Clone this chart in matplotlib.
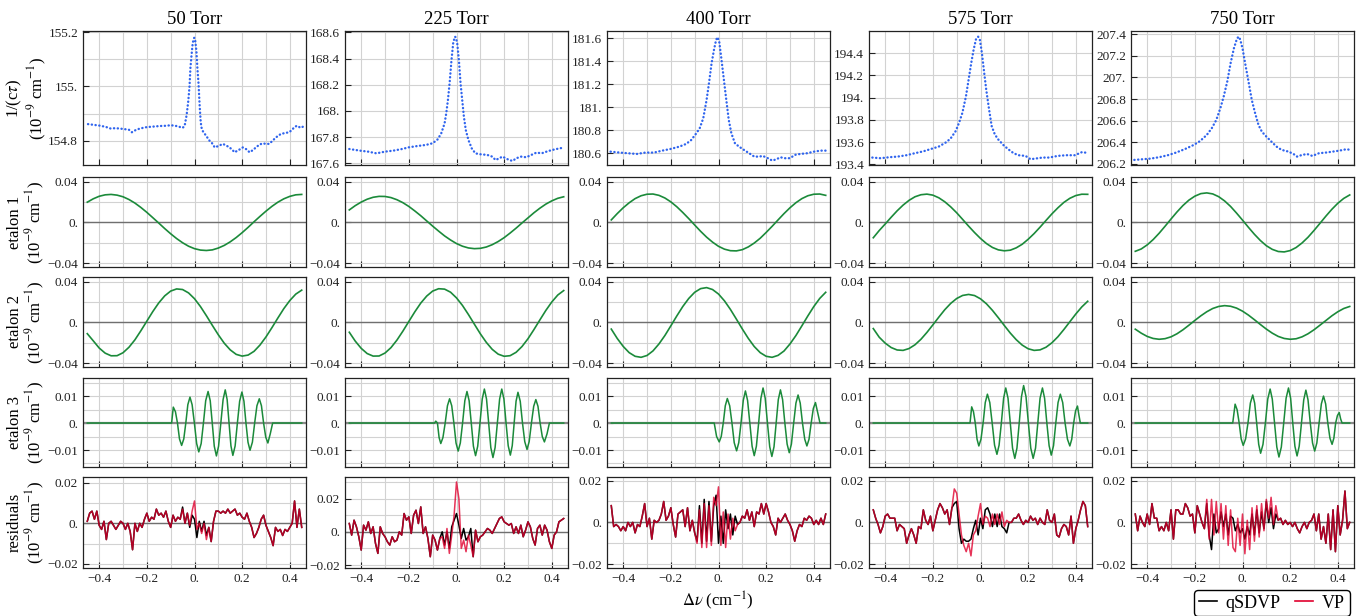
import numpy as np
import matplotlib
matplotlib.use("Agg")
import matplotlib.pyplot as plt
from matplotlib.ticker import MultipleLocator, FixedLocator, FuncFormatter
from matplotlib.lines import Line2D

plt.rcParams["font.family"] = ["Liberation Serif", "DejaVu Serif"]
plt.rcParams["mathtext.fontset"] = "stix"

# ---------------------------------------------------------------- data
pressures = ["50 Torr", "225 Torr", "400 Torr", "575 Torr", "750 Torr"]

# measured 1/(c tau) spectra (x, y) per pressure
spec_x = [
    [-0.447, -0.42, -0.394, -0.37, -0.353, -0.33, -0.297, -0.275, -0.263, -0.245, -0.228, -0.2, -0.172,
     -0.145, -0.117, -0.1, -0.082, -0.065, -0.054, -0.045, -0.04, -0.033, -0.026, -0.021, -0.017, -0.012,
     -0.008, -0.004, -0.001, 0.003, 0.008, 0.012, 0.017, 0.022, 0.026, 0.029, 0.035, 0.043, 0.055, 0.063,
     0.071, 0.085, 0.1, 0.119, 0.133, 0.147, 0.16, 0.168, 0.185, 0.203, 0.218, 0.231, 0.245, 0.258, 0.272,
     0.286, 0.3, 0.314, 0.328, 0.342, 0.363, 0.38, 0.397, 0.41, 0.418, 0.43, 0.446, 0.456],
    [-0.45, -0.407, -0.371, -0.336, -0.3, -0.264, -0.229, -0.2, -0.164, -0.129, -0.1, -0.079, -0.064,
     -0.05, -0.043, -0.036, -0.029, -0.021, -0.014, -0.007, -0.003, 0.003, 0.01, 0.017, 0.024, 0.031,
     0.039, 0.05, 0.064, 0.079, 0.1, 0.129, 0.15, 0.164, 0.179, 0.193, 0.207, 0.221, 0.236, 0.25, 0.271,
     0.293, 0.314, 0.336, 0.357, 0.386, 0.414, 0.45],
    [-0.453, -0.414, -0.379, -0.343, -0.307, -0.271, -0.236, -0.2, -0.164, -0.136, -0.114, -0.093, -0.079,
     -0.064, -0.05, -0.04, -0.029, -0.019, -0.01, -0.004, 0.003, 0.011, 0.021, 0.031, 0.043, 0.054, 0.069,
     0.086, 0.107, 0.129, 0.15, 0.171, 0.186, 0.207, 0.226, 0.243, 0.26, 0.279, 0.3, 0.321, 0.343, 0.371,
     0.4, 0.429, 0.454],
    [-0.454, -0.419, -0.383, -0.347, -0.311, -0.276, -0.24, -0.204, -0.176, -0.147, -0.126, -0.104, -0.09,
     -0.076, -0.061, -0.05, -0.039, -0.029, -0.019, -0.01, -0.003, 0.006, 0.014, 0.024, 0.036, 0.047, 0.06,
     0.074, 0.096, 0.117, 0.139, 0.16, 0.189, 0.21, 0.231, 0.26, 0.289, 0.324, 0.36, 0.396, 0.427, 0.453],
    [-0.454, -0.421, -0.386, -0.35, -0.314, -0.279, -0.243, -0.207, -0.179, -0.15, -0.129, -0.11, -0.093,
     -0.079, -0.064, -0.05, -0.036, -0.024, -0.017, -0.01, 0.0, 0.011, 0.024, 0.039, 0.053, 0.067, 0.081,
     0.1, 0.121, 0.143, 0.164, 0.193, 0.214, 0.229, 0.25, 0.271, 0.293, 0.321, 0.35, 0.379, 0.407, 0.436,
     0.453],
]
spec_y = [
    [154.861, 154.858, 154.855, 154.850, 154.845, 154.846, 154.843, 154.840, 154.831, 154.840, 154.845,
     154.850, 154.852, 154.854, 154.855, 154.857, 154.855, 154.852, 154.847, 154.850, 154.861, 154.895,
     154.947, 155.000, 155.070, 155.120, 155.156, 155.175, 155.180, 155.170, 155.131, 155.070, 155.009,
     154.923, 154.870, 154.849, 154.835, 154.825, 154.810, 154.800, 154.794, 154.775, 154.780, 154.788,
     154.782, 154.775, 154.765, 154.757, 154.765, 154.775, 154.768, 154.757, 154.765, 154.775, 154.785,
     154.790, 154.788, 154.788, 154.800, 154.812, 154.825, 154.828, 154.831, 154.840, 154.849, 154.855,
     154.847, 154.852],
    [167.709, 167.697, 167.689, 167.676, 167.689, 167.697, 167.709, 167.722, 167.732, 167.740, 167.753,
     167.783, 167.829, 167.905, 167.982, 168.083, 168.211, 168.389, 168.516, 168.567, 168.562, 168.516,
     168.389, 168.211, 168.083, 167.956, 167.854, 167.778, 167.714, 167.676, 167.669, 167.664, 167.651,
     167.625, 167.638, 167.651, 167.638, 167.625, 167.618, 167.638, 167.651, 167.646, 167.664, 167.682,
     167.676, 167.694, 167.707, 167.720],
    [180.614, 180.606, 180.600, 180.594, 180.606, 180.606, 180.623, 180.638, 180.658, 180.681, 180.716,
     180.774, 180.817, 180.904, 181.064, 181.209, 181.383, 181.499, 181.586, 181.609, 181.571, 181.441,
     181.267, 181.093, 180.890, 180.774, 180.687, 180.658, 180.629, 180.600, 180.571, 180.571, 180.577,
     180.557, 180.536, 180.548, 180.565, 180.557, 180.557, 180.586, 180.594, 180.600, 180.614, 180.623,
     180.623],
    [193.460, 193.454, 193.463, 193.469, 193.481, 193.499, 193.516, 193.540, 193.558, 193.594, 193.630,
     193.699, 193.773, 193.863, 194.012, 194.161, 194.310, 194.430, 194.525, 194.549, 194.525, 194.400,
     194.251, 194.072, 193.893, 193.743, 193.669, 193.624, 193.573, 193.534, 193.499, 193.481, 193.475,
     193.445, 193.451, 193.460, 193.460, 193.475, 193.481, 193.481, 193.510, 193.499],
    [206.237, 206.243, 206.249, 206.262, 206.280, 206.305, 206.336, 206.373, 206.410, 206.468, 206.530,
     206.607, 206.715, 206.823, 206.962, 207.132, 207.270, 207.354, 207.378, 207.354, 207.270, 207.132,
     206.977, 206.792, 206.669, 206.561, 206.499, 206.453, 206.407, 206.360, 206.330, 206.314, 206.292,
     206.268, 206.283, 206.292, 206.274, 206.299, 206.305, 206.314, 206.323, 206.336, 206.330],
]
spec_ylim = [(154.71, 155.205), (167.587, 168.61), (180.498, 181.663), (193.393, 194.6), (206.19, 207.43)]
spec_ticks = [
    [154.8, 155.0, 155.2],
    [167.6, 167.8, 168.0, 168.2, 168.4, 168.6],
    [180.6, 180.8, 181.0, 181.2, 181.4, 181.6],
    [193.4, 193.6, 193.8, 194.0, 194.2, 194.4],
    [206.2, 206.4, 206.6, 206.8, 207.0, 207.2, 207.4],
]
spec_grid = [
    [154.8, 154.9, 155.0, 155.1, 155.2],
    [167.6, 167.8, 168.0, 168.2, 168.4, 168.6],
    [180.6, 180.8, 181.0, 181.2, 181.4, 181.6],
    [193.4, 193.6, 193.8, 194.0, 194.2, 194.4, 194.6],
    [206.2, 206.4, 206.6, 206.8, 207.0, 207.2, 207.4],
]

# etalon 1 and 2, sampled every 0.025 cm^-1 from -0.45 to 0.45
etalon_x = [-0.45, -0.425, -0.40, -0.375, -0.35, -0.325, -0.30, -0.275, -0.25, -0.225, -0.20, -0.175,
            -0.15, -0.125, -0.10, -0.075, -0.05, -0.025, 0.0, 0.025, 0.05, 0.075, 0.10, 0.125, 0.15,
            0.175, 0.20, 0.225, 0.25, 0.275, 0.30, 0.325, 0.35, 0.375, 0.40, 0.425, 0.45]
etalon1 = [
    [0.0199, 0.0232, 0.0257, 0.0271, 0.0275, 0.0268, 0.0252, 0.0225, 0.0190, 0.0147, 0.0099, 0.0047,
     -0.0006, -0.0060, -0.0111, -0.0158, -0.0199, -0.0233, -0.0257, -0.0271, -0.0275, -0.0269, -0.0251,
     -0.0225, -0.0190, -0.0148, -0.0100, -0.0048, 0.0007, 0.0060, 0.0111, 0.0158, 0.0199, 0.0232, 0.0256,
     0.0271, 0.0275],
    [0.0123, 0.0165, 0.0200, 0.0228, 0.0247, 0.0256, 0.0255, 0.0244, 0.0223, 0.0194, 0.0157, 0.0113,
     0.0066, 0.0015, -0.0036, -0.0085, -0.0132, -0.0172, -0.0207, -0.0233, -0.0250, -0.0257, -0.0254,
     -0.0241, -0.0218, -0.0187, -0.0149, -0.0104, -0.0056, -0.0005, 0.0045, 0.0095, 0.0140, 0.0180,
     0.0212, 0.0237, 0.0252],
    [0.0025, 0.0087, 0.0144, 0.0193, 0.0234, 0.0262, 0.0277, 0.0279, 0.0266, 0.0240, 0.0202, 0.0154,
     0.0098, 0.0038, -0.0025, -0.0087, -0.0144, -0.0193, -0.0234, -0.0262, -0.0277, -0.0279, -0.0267,
     -0.0240, -0.0202, -0.0155, -0.0098, -0.0038, 0.0025, 0.0087, 0.0144, 0.0194, 0.0234, 0.0262, 0.0277,
     0.0279, 0.0266],
    [-0.0150, -0.0079, -0.0015, 0.0051, 0.0114, 0.0170, 0.0217, 0.0252, 0.0272, 0.0278, 0.0268, 0.0242,
     0.0203, 0.0153, 0.0095, 0.0030, -0.0036, -0.0099, -0.0157, -0.0207, -0.0245, -0.0269, -0.0278,
     -0.0272, -0.0249, -0.0214, -0.0165, -0.0109, -0.0046, 0.0020, 0.0085, 0.0144, 0.0197, 0.0237,
     0.0264, 0.0277, 0.0276],
    [-0.0283, -0.0260, -0.0220, -0.0168, -0.0106, -0.0037, 0.0034, 0.0103, 0.0166, 0.0219, 0.0258,
     0.0283, 0.0290, 0.0280, 0.0253, 0.0211, 0.0157, 0.0092, 0.0023, -0.0048, -0.0116, -0.0177, -0.0228,
     -0.0264, -0.0285, -0.0289, -0.0276, -0.0246, -0.0201, -0.0145, -0.0079, -0.0009, 0.0062, 0.0129,
     0.0188, 0.0236, 0.0270],
]
etalon2 = [
    [-0.0110, -0.0180, -0.0251, -0.0301, -0.0327, -0.0326, -0.0297, -0.0243, -0.0170, -0.0081, 0.0013,
     0.0107, 0.0192, 0.0261, 0.0308, 0.0329, 0.0323, 0.0290, 0.0233, 0.0156, 0.0066, -0.0029, -0.0121,
     -0.0204, -0.0269, -0.0313, -0.0330, -0.0320, -0.0283, -0.0221, -0.0142, -0.0051, 0.0044, 0.0136,
     0.0215, 0.0278, 0.0317],
    [-0.0096, -0.0183, -0.0254, -0.0305, -0.0330, -0.0329, -0.0300, -0.0247, -0.0173, -0.0085, 0.0010,
     0.0104, 0.0190, 0.0259, 0.0308, 0.0331, 0.0327, 0.0297, 0.0241, 0.0167, 0.0078, -0.0017, -0.0111,
     -0.0195, -0.0264, -0.0311, -0.0332, -0.0326, -0.0293, -0.0236, -0.0160, -0.0070, 0.0025, 0.0118,
     0.0201, 0.0269, 0.0313],
    [-0.0065, -0.0157, -0.0235, -0.0296, -0.0332, -0.0342, -0.0324, -0.0279, -0.0211, -0.0128, -0.0033,
     0.0064, 0.0156, 0.0235, 0.0296, 0.0332, 0.0342, 0.0323, 0.0279, 0.0212, 0.0128, 0.0033, -0.0064,
     -0.0156, -0.0236, -0.0296, -0.0332, -0.0342, -0.0323, -0.0280, -0.0211, -0.0128, -0.0033, 0.0064,
     0.0156, 0.0236, 0.0296],
    [-0.0060, -0.0145, -0.0203, -0.0246, -0.0270, -0.0274, -0.0256, -0.0219, -0.0165, -0.0098, -0.0024,
     0.0052, 0.0125, 0.0187, 0.0235, 0.0265, 0.0275, 0.0264, 0.0232, 0.0183, 0.0119, 0.0046, -0.0030,
     -0.0104, -0.0169, -0.0222, -0.0258, -0.0274, -0.0269, -0.0243, -0.0199, -0.0140, -0.0069, 0.0007,
     0.0083, 0.0152, 0.0208],
    [-0.0066, -0.0105, -0.0137, -0.0157, -0.0165, -0.0159, -0.0141, -0.0111, -0.0072, -0.0027, 0.0020,
     0.0065, 0.0105, 0.0137, 0.0157, 0.0165, 0.0159, 0.0141, 0.0111, 0.0072, 0.0027, -0.0020, -0.0065,
     -0.0105, -0.0137, -0.0157, -0.0165, -0.0160, -0.0141, -0.0111, -0.0072, -0.0027, 0.0019, 0.0065,
     0.0105, 0.0137, 0.0157],
]

# etalon 3 (short fringe packet)
etalon3_x = [
    [-0.45, -0.096, -0.089, -0.080, -0.0715, -0.063, -0.054, -0.045, -0.0365, -0.028, -0.019, -0.010,
     -0.0005, 0.009, 0.018, 0.028, 0.0375, 0.047, 0.057, 0.066, 0.0745, 0.083, 0.092, 0.101, 0.1105,
     0.120, 0.129, 0.137, 0.145, 0.153, 0.161, 0.1705, 0.180, 0.1895, 0.199, 0.2075, 0.216, 0.2245,
     0.233, 0.243, 0.2525, 0.262, 0.272, 0.281, 0.290, 0.299, 0.308, 0.318, 0.328, 0.45],
    [-0.45, -0.092, -0.087, -0.080, -0.073, -0.066, -0.057, -0.0475, -0.038, -0.029, -0.020, -0.011,
     -0.002, 0.007, 0.016, 0.0255, 0.035, 0.044, 0.053, 0.062, 0.071, 0.080, 0.089, 0.0985, 0.108,
     0.117, 0.126, 0.135, 0.144, 0.153, 0.162, 0.1715, 0.181, 0.190, 0.199, 0.208, 0.217, 0.226, 0.234,
     0.242, 0.250, 0.258, 0.2675, 0.277, 0.2865, 0.296, 0.305, 0.3145, 0.324, 0.333, 0.342, 0.351,
     0.360, 0.369, 0.380, 0.390, 0.45],
    [-0.45, -0.018, -0.008, 0.003, 0.0115, 0.020, 0.0285, 0.037, 0.047, 0.0565, 0.066, 0.076, 0.085,
     0.0945, 0.104, 0.113, 0.122, 0.1315, 0.141, 0.150, 0.159, 0.1685, 0.178, 0.187, 0.196, 0.2055,
     0.215, 0.224, 0.233, 0.242, 0.251, 0.260, 0.269, 0.2785, 0.288, 0.297, 0.306, 0.3155, 0.325, 0.334,
     0.343, 0.3525, 0.362, 0.371, 0.380, 0.389, 0.398, 0.407, 0.416, 0.426, 0.45],
    [-0.45, -0.044, -0.037, -0.0295, -0.022, -0.0145, -0.007, 0.002, 0.011, 0.020, 0.029, 0.039, 0.049,
     0.059, 0.069, 0.078, 0.0875, 0.097, 0.106, 0.1155, 0.125, 0.1345, 0.144, 0.153, 0.1625, 0.172,
     0.181, 0.191, 0.201, 0.211, 0.221, 0.231, 0.2405, 0.250, 0.260, 0.269, 0.2785, 0.288, 0.297,
     0.3065, 0.316, 0.3255, 0.335, 0.345, 0.355, 0.365, 0.375, 0.383, 0.391, 0.399, 0.407, 0.413,
     0.419, 0.45],
    [-0.45, -0.041, -0.031, -0.0225, -0.014, -0.0055, 0.003, 0.013, 0.023, 0.033, 0.043, 0.051, 0.0595,
     0.068, 0.076, 0.086, 0.096, 0.106, 0.116, 0.125, 0.1345, 0.144, 0.153, 0.163, 0.173, 0.183, 0.193,
     0.202, 0.211, 0.220, 0.229, 0.238, 0.2475, 0.257, 0.266, 0.275, 0.2845, 0.294, 0.303, 0.312,
     0.3215, 0.331, 0.340, 0.349, 0.358, 0.367, 0.376, 0.3835, 0.391, 0.3985, 0.406, 0.412, 0.418, 0.45],
]
etalon3_y = [
    [0, 0, 0.0059, 0.0042, 0.0, -0.0059, -0.0083, -0.0059, 0.0, 0.0068, 0.0096, 0.0068, 0.0, -0.0076,
     -0.0107, -0.0076, 0.0, 0.0083, 0.0117, 0.0083, 0.0, -0.0086, -0.0122, -0.0086, 0.0, 0.0087, 0.0123,
     0.0087, 0.0, -0.0085, -0.0120, -0.0085, 0.0, 0.0081, 0.0115, 0.0081, 0.0, -0.0071, -0.0101, -0.0071,
     0.0, 0.0064, 0.0090, 0.0064, 0.0, -0.0052, -0.0074, -0.0040, 0.0, 0.0],
    [0, 0, 0.0007, 0.0, -0.0054, -0.0076, -0.0054, 0.0, 0.0064, 0.0090, 0.0064, 0.0, -0.0074, -0.0104,
     -0.0074, 0.0, 0.0083, 0.0117, 0.0083, 0.0, -0.0086, -0.0121, -0.0086, 0.0, 0.0089, 0.0126, 0.0089,
     0.0, -0.0091, -0.0128, -0.0091, 0.0, 0.0089, 0.0126, 0.0089, 0.0, -0.0084, -0.0119, -0.0084, 0.0,
     0.0081, 0.0114, 0.0081, 0.0, -0.0069, -0.0098, -0.0069, 0.0, 0.0062, 0.0087, 0.0062, 0.0, -0.0050,
     -0.0070, -0.0040, 0.0, 0.0],
    [0, 0, -0.0050, -0.0070, -0.0050, 0.0, 0.0064, 0.0091, 0.0064, 0.0, -0.0073, -0.0103, -0.0073, 0.0,
     0.0084, 0.0119, 0.0084, 0.0, -0.0086, -0.0121, -0.0086, 0.0, 0.0092, 0.0130, 0.0092, 0.0, -0.0088,
     -0.0124, -0.0088, 0.0, 0.0087, 0.0123, 0.0087, 0.0, -0.0078, -0.0110, -0.0078, 0.0, 0.0074, 0.0104,
     0.0074, 0.0, -0.0060, -0.0085, -0.0060, 0.0, 0.0054, 0.0076, 0.0040, 0.0, 0.0],
    [0, 0, 0.0060, 0.0042, 0.0, -0.0060, -0.0085, -0.0060, 0.0, 0.0076, 0.0107, 0.0076, 0.0, -0.0082,
     -0.0116, -0.0082, 0.0, 0.0092, 0.0130, 0.0092, 0.0, -0.0093, -0.0131, -0.0093, 0.0, 0.0098, 0.0139,
     0.0098, 0.0, -0.0093, -0.0131, -0.0093, 0.0, 0.0092, 0.0130, 0.0092, 0.0, -0.0084, -0.0119, -0.0084,
     0.0, 0.0076, 0.0107, 0.0076, 0.0, -0.0060, -0.0085, -0.0060, 0.0, 0.0045, 0.0063, 0.0030, 0.0, 0.0],
    [0, 0, 0.0070, 0.0049, 0.0, -0.0059, -0.0083, -0.0059, 0.0, 0.0074, 0.0104, 0.0074, 0.0, -0.0079,
     -0.0112, -0.0079, 0.0, 0.0089, 0.0126, 0.0089, 0.0, -0.0089, -0.0126, -0.0089, 0.0, 0.0092, 0.0130,
     0.0092, 0.0, -0.0086, -0.0122, -0.0086, 0.0, 0.0086, 0.0122, 0.0086, 0.0, -0.0074, -0.0104, -0.0074,
     0.0, 0.0071, 0.0100, 0.0071, 0.0, -0.0056, -0.0079, -0.0056, 0.0, 0.0028, 0.0039, 0.0015, 0.0, 0.0],
]

# fit residuals, sampled every 0.01 cm^-1 from -0.45 to 0.45
res_x = np.linspace(-0.45, 0.45, 91)
res_qsdvp = [
    [0.001, 0.005, 0.006, 0.002, 0.006, -0.001, -0.003, 0.001, -0.008, 0.000,
     0.001, -0.001, -0.003, -0.001, 0.001, 0.000, -0.003, 0.000, -0.004, -0.013,
     0.000, -0.004, 0.000, -0.002, 0.002, 0.005, 0.001, 0.003, 0.002, 0.007,
     0.004, 0.005, 0.003, 0.006, 0.001, -0.002, 0.004, 0.001, 0.003, 0.002,
     0.008, 0.000, 0.005, -0.002, 0.004, 0.002, -0.007, 0.001, -0.004, 0.001,
     -0.006, -0.002, -0.009, 0.001, 0.006, 0.006, 0.005, 0.006, 0.005, 0.007,
     0.005, 0.006, 0.007, 0.004, 0.005, 0.003, 0.002, 0.005, 0.001, -0.002,
     -0.007, -0.005, -0.002, 0.002, 0.004, -0.001, -0.004, -0.007, -0.011, -0.002,
     -0.004, -0.003, -0.006, -0.003, -0.004, -0.002, 0.000, 0.011, -0.002, 0.007,
     -0.002],
    [0.005, -0.002, 0.007, 0.003, -0.003, -0.011, 0.004, 0.001, 0.006, -0.001,
     0.003, -0.007, -0.013, 0.003, -0.001, -0.003, -0.006, -0.008, -0.003, -0.006,
     -0.005, 0.000, -0.002, 0.011, 0.007, 0.009, -0.001, 0.010, 0.013, 0.005,
     0.015, -0.001, 0.003, -0.004, -0.015, -0.002, -0.005, -0.011, -0.004, 0.000,
     -0.008, 0.000, -0.010, 0.003, 0.007, 0.011, 0.004, -0.004, 0.002, -0.005,
     -0.003, 0.002, -0.015, 0.001, -0.006, -0.003, -0.002, 0.000, 0.002, 0.001,
     -0.001, 0.002, 0.005, 0.008, 0.009, 0.006, 0.005, 0.004, 0.005, -0.001,
     0.003, -0.001, 0.004, -0.003, 0.001, 0.006, 0.003, -0.004, -0.008, 0.002,
     0.004, -0.002, 0.004, 0.001, -0.006, -0.010, -0.002, 0.000, 0.006, 0.007,
     0.008],
    [0.008, -0.002, -0.001, -0.002, -0.004, -0.002, -0.004, 0.000, -0.002, 0.000,
     -0.005, -0.001, -0.002, 0.003, 0.009, -0.002, 0.002, -0.008, 0.001, 0.000,
     0.001, 0.004, 0.010, 0.001, 0.003, 0.007, -0.001, -0.007, 0.004, 0.005,
     0.006, -0.002, 0.007, -0.004, 0.001, -0.005, -0.009, 0.008, -0.010, 0.011,
     -0.009, 0.010, -0.009, 0.008, 0.013, -0.010, 0.003, -0.010, 0.006, -0.003,
     0.004, -0.006, 0.003, -0.001, 0.000, 0.003, 0.002, 0.006, 0.001, 0.005,
     -0.002, 0.005, 0.004, 0.009, 0.004, 0.009, 0.005, 0.000, -0.002, -0.006,
     0.002, 0.000, 0.002, 0.004, 0.001, -0.001, -0.004, -0.009, -0.004, -0.001,
     -0.002, 0.002, 0.001, 0.003, 0.002, -0.001, 0.001, -0.001, 0.002, -0.001,
     0.004],
    [0.006, 0.002, -0.001, -0.005, -0.002, 0.003, 0.004, 0.002, 0.002, 0.002,
     -0.004, -0.001, -0.002, -0.003, -0.010, -0.006, -0.003, -0.006, -0.010, -0.002,
     -0.003, 0.006, 0.001, -0.001, 0.003, -0.004, 0.001, 0.006, 0.009, 0.007,
     0.004, 0.006, -0.001, 0.007, 0.009, 0.010, -0.003, -0.010, -0.008, -0.009,
     -0.009, -0.008, -0.003, 0.001, -0.006, 0.002, -0.003, 0.006, 0.007, 0.004,
     -0.002, 0.004, -0.002, 0.004, -0.002, -0.003, -0.005, 0.000, 0.000, 0.002,
     0.002, 0.004, 0.001, -0.001, 0.001, 0.000, 0.003, 0.001, 0.002, -0.001,
     0.002, 0.000, -0.001, 0.006, 0.001, 0.000, 0.004, -0.006, -0.007, -0.003,
     -0.001, -0.002, -0.006, 0.003, -0.010, -0.003, 0.001, 0.006, 0.010, 0.008,
     -0.002],
    [0.004, -0.004, 0.003, 0.000, -0.002, 0.004, -0.001, 0.009, 0.002, 0.002,
     -0.004, -0.002, -0.004, 0.000, -0.004, 0.006, -0.008, 0.006, 0.006, 0.004,
     0.004, 0.009, 0.007, 0.003, 0.004, -0.005, 0.008, 0.004, 0.000, -0.003,
     0.009, -0.006, -0.013, 0.004, -0.005, -0.003, 0.005, -0.002, 0.004, -0.006,
     0.003, 0.002, -0.004, -0.001, -0.005, -0.003, -0.008, -0.002, -0.006, 0.004,
     -0.006, 0.006, -0.005, 0.005, -0.003, 0.010, 0.000, 0.007, -0.003, 0.004,
     0.001, 0.002, -0.001, 0.001, -0.001, 0.000, -0.002, 0.000, -0.003, -0.005,
     -0.002, 0.000, -0.003, 0.000, 0.001, 0.004, -0.004, 0.004, -0.008, -0.002,
     -0.010, 0.004, -0.013, 0.006, -0.014, 0.008, -0.006, 0.001, 0.015, -0.003,
     0.000],
]
res_vp = [
    [0.001, 0.005, 0.006, 0.002, 0.006, -0.001, -0.003, 0.001, -0.008, 0.000,
     0.001, -0.001, -0.003, -0.001, 0.001, 0.000, -0.003, 0.000, -0.004, -0.013,
     0.000, -0.004, 0.000, -0.002, 0.002, 0.005, 0.001, 0.003, 0.002, 0.007,
     0.004, 0.005, 0.003, 0.006, 0.001, -0.002, 0.004, 0.001, 0.003, 0.002,
     0.007, 0.000, 0.005, -0.001, 0.006, 0.011, -0.003, 0.000, -0.005, 0.000,
     -0.008, -0.002, -0.009, 0.001, 0.006, 0.006, 0.005, 0.006, 0.005, 0.007,
     0.005, 0.006, 0.007, 0.004, 0.005, 0.003, 0.002, 0.005, 0.001, -0.002,
     -0.007, -0.005, -0.002, 0.002, 0.004, -0.001, -0.004, -0.007, -0.011, -0.002,
     -0.004, -0.003, -0.006, -0.003, -0.004, -0.002, 0.000, 0.011, -0.002, 0.007,
     -0.002],
    [0.005, -0.002, 0.007, 0.003, -0.003, -0.011, 0.004, 0.001, 0.006, -0.001,
     0.003, -0.007, -0.013, 0.003, -0.001, -0.003, -0.006, -0.008, -0.003, -0.006,
     -0.005, 0.000, -0.002, 0.011, 0.007, 0.009, -0.001, 0.010, 0.013, 0.005,
     0.015, -0.001, 0.003, -0.004, -0.015, -0.002, -0.005, -0.011, -0.004, -0.003,
     -0.010, 0.002, -0.013, -0.002, 0.010, 0.030, 0.020, -0.010, -0.005, -0.012,
     -0.002, -0.008, -0.015, 0.001, -0.006, -0.003, -0.002, 0.000, 0.002, 0.001,
     -0.001, 0.002, 0.005, 0.008, 0.009, 0.006, 0.005, 0.004, 0.005, -0.001,
     0.003, -0.001, 0.004, -0.003, 0.001, 0.006, 0.003, -0.004, -0.008, 0.002,
     0.004, -0.002, 0.004, 0.001, -0.006, -0.010, -0.002, 0.000, 0.006, 0.007,
     0.008],
    [0.008, -0.002, -0.001, -0.002, -0.004, -0.002, -0.004, 0.000, -0.002, 0.000,
     -0.005, -0.001, -0.002, 0.003, 0.009, -0.002, 0.002, -0.008, 0.001, 0.000,
     0.001, 0.004, 0.010, 0.001, 0.003, 0.007, -0.001, -0.007, 0.004, 0.005,
     0.006, -0.002, 0.007, -0.004, 0.001, -0.005, -0.010, 0.006, -0.012, 0.009,
     -0.012, 0.008, -0.011, 0.012, 0.008, 0.017, -0.011, 0.005, -0.012, 0.004,
     -0.008, 0.002, -0.004, -0.001, 0.000, 0.003, 0.002, 0.006, 0.001, 0.005,
     -0.002, 0.005, 0.004, 0.009, 0.004, 0.009, 0.005, 0.000, -0.002, -0.006,
     0.002, 0.000, 0.002, 0.004, 0.001, -0.001, -0.004, -0.009, -0.004, -0.001,
     -0.002, 0.002, 0.001, 0.003, 0.002, -0.001, 0.001, -0.001, 0.002, -0.001,
     0.004],
    [0.006, 0.002, -0.001, -0.005, -0.002, 0.003, 0.004, 0.002, 0.002, 0.002,
     -0.004, -0.001, -0.002, -0.003, -0.010, -0.006, -0.003, -0.006, -0.010, -0.002,
     -0.003, 0.006, 0.001, -0.001, 0.003, -0.004, 0.001, 0.006, 0.009, 0.007,
     0.004, 0.006, -0.001, 0.007, 0.016, 0.014, 0.004, -0.006, -0.011, -0.014,
     -0.010, -0.016, -0.006, -0.004, 0.003, 0.009, -0.001, 0.003, 0.002, -0.002,
     0.004, -0.001, 0.004, -0.001, 0.005, -0.002, 0.001, 0.000, 0.000, 0.002,
     0.002, 0.004, 0.001, -0.001, 0.001, 0.000, 0.003, 0.001, 0.002, -0.001,
     0.002, 0.000, -0.001, 0.006, 0.001, 0.000, 0.004, -0.006, -0.007, -0.003,
     -0.001, -0.002, -0.006, 0.003, -0.010, -0.003, 0.001, 0.006, 0.010, 0.008,
     -0.002],
    [0.004, -0.004, 0.003, 0.000, -0.002, 0.004, -0.001, 0.009, 0.002, 0.002,
     -0.004, -0.002, -0.004, 0.000, -0.004, 0.006, -0.008, 0.006, 0.006, 0.004,
     0.004, 0.009, 0.007, 0.003, 0.004, -0.005, 0.008, 0.004, 0.000, -0.003,
     0.011, -0.008, 0.011, -0.006, 0.010, -0.005, 0.009, -0.008, 0.008, -0.011,
     0.006, -0.012, -0.014, 0.002, -0.011, 0.004, -0.015, 0.001, -0.013, 0.007,
     -0.009, 0.008, -0.007, 0.009, -0.004, 0.011, 0.002, 0.012, -0.001, 0.008,
     0.001, 0.002, -0.001, 0.001, -0.001, 0.000, -0.002, 0.000, -0.003, -0.005,
     -0.002, 0.000, -0.003, 0.000, 0.001, 0.004, -0.004, 0.004, -0.008, -0.002,
     -0.010, 0.004, -0.013, 0.006, -0.014, 0.008, -0.006, 0.001, 0.015, -0.003,
     0.000],
]
res_ylim = [(-0.022, 0.0228), (-0.0218, 0.033), (-0.0218, 0.0217), (-0.0218, 0.0217), (-0.0218, 0.0217)]

row_labels = ["1/(c$\\tau$)", "etalon 1", "etalon 2", "etalon 3", "residuals"]

# ---------------------------------------------------------------- style
BLUE = "#2f64ee"
GREEN = "#1b8a3a"
ZERO = "#6f6f6f"
GRID = "#d2d2d2"
CRIMSON = "#e0002e"

W, H = 1369, 616
col_left = [83, 345, 607, 869, 1131]
col_w = 223
rows_px = [(31, 165), (177, 267), (277, 367), (378, 467), (477, 568)]


def mlabel(v, nd):
    if abs(v - round(v)) < 1e-9:
        s = f"{int(round(v))}."
    else:
        s = f"{v:.{nd}f}"
    return s.replace("-", "\u2212")


fig = plt.figure(figsize=(W / 100, H / 100), dpi=100)

for c in range(5):
    for r in range(5):
        top, bot = rows_px[r]
        ax = fig.add_axes([col_left[c] / W, 1 - bot / H, col_w / W, (bot - top) / H])
        ax.set_xlim(-0.468, 0.468)
        ax.xaxis.set_major_locator(MultipleLocator(0.2))
        ax.xaxis.set_minor_locator(MultipleLocator(0.1))
        ax.xaxis.set_major_formatter(FuncFormatter(lambda v, p: mlabel(v, 1)))

        if r == 0:
            ax.plot(spec_x[c], spec_y[c], color=BLUE, lw=1.7, ls=(0, (0.1, 1.5)),
                    dash_capstyle="round", zorder=3)
            ax.set_ylim(*spec_ylim[c])
            ax.yaxis.set_major_locator(FixedLocator(spec_ticks[c]))
            ax.yaxis.set_minor_locator(FixedLocator(spec_grid[c]))
            ax.yaxis.set_major_formatter(FuncFormatter(lambda v, p: mlabel(v, 1)))
            ax.set_title(pressures[c], fontsize=13.5, pad=5)
        elif r in (1, 2):
            ys = etalon1[c] if r == 1 else etalon2[c]
            ax.axhline(0, color=ZERO, lw=1.0, zorder=2)
            ax.plot(etalon_x, ys, color=GREEN, lw=1.2, zorder=3)
            ax.set_ylim(-0.0437, 0.0446)
            ax.yaxis.set_major_locator(FixedLocator([-0.04, 0.0, 0.04]))
            ax.yaxis.set_minor_locator(FixedLocator([-0.04, -0.02, 0.0, 0.02, 0.04]))
            ax.yaxis.set_major_formatter(FuncFormatter(lambda v, p: mlabel(v, 2)))
        elif r == 3:
            ax.axhline(0, color="#8a8a8a", lw=1.6, zorder=2)
            ax.plot(etalon3_x[c], etalon3_y[c], color=GREEN, lw=1.1, zorder=3)
            ax.set_ylim(-0.0163, 0.0167)
            ax.yaxis.set_major_locator(FixedLocator([-0.01, 0.0, 0.01]))
            ax.yaxis.set_minor_locator(FixedLocator([-0.015, -0.01, -0.005, 0.0, 0.005, 0.01, 0.015]))
            ax.yaxis.set_major_formatter(FuncFormatter(lambda v, p: mlabel(v, 2)))
        else:
            ax.axhline(0, color=ZERO, lw=1.0, zorder=2)
            ax.plot(res_x, res_qsdvp[c], color="black", lw=1.1, zorder=3)
            ax.plot(res_x, res_vp[c], color=CRIMSON, lw=1.1, alpha=0.8, zorder=4)
            ax.set_ylim(*res_ylim[c])
            ax.yaxis.set_major_locator(FixedLocator([-0.02, 0.0, 0.02]))
            ax.yaxis.set_minor_locator(FixedLocator([-0.02, -0.01, 0.0, 0.01, 0.02, 0.03]))
            ax.yaxis.set_major_formatter(FuncFormatter(lambda v, p: mlabel(v, 2)))

        ax.grid(which="both", color=GRID, lw=0.8)
        ax.set_axisbelow(True)
        ax.tick_params(which="major", direction="in", length=4, width=0.8, labelsize=9.5,
                       colors="#222222")
        ax.tick_params(which="minor", length=0)
        if r < 4:
            ax.tick_params(labelbottom=False)
        for s in ax.spines.values():
            s.set_color("#222222")
            s.set_linewidth(0.9)

# row labels on the left
for r in range(5):
    top, bot = rows_px[r]
    fig.text(27 / W, 1 - (top + bot) / 2 / H, row_labels[r] + "\n(10$^{-9}$ cm$^{-1}$)",
             rotation=90, ha="center", va="center", fontsize=12, linespacing=1.1,
             multialignment="center")

fig.text(718 / W, 1 - 601 / H, "$\\Delta\\nu$ (cm$^{-1}$)", ha="center", va="center", fontsize=12)

handles = [Line2D([], [], color="black", lw=1.2), Line2D([], [], color=CRIMSON, lw=1.2)]
fig.legend(handles, ["qSDVP", "VP"], loc="upper left", bbox_to_anchor=(1194 / W, 1 - 590 / H),
           ncol=2, fontsize=13, handlelength=1.0, handletextpad=0.5, columnspacing=0.8,
           frameon=True, fancybox=True, edgecolor="black", borderpad=0.25, borderaxespad=0.0,
           framealpha=1)

fig.savefig("out.png", dpi=100)
